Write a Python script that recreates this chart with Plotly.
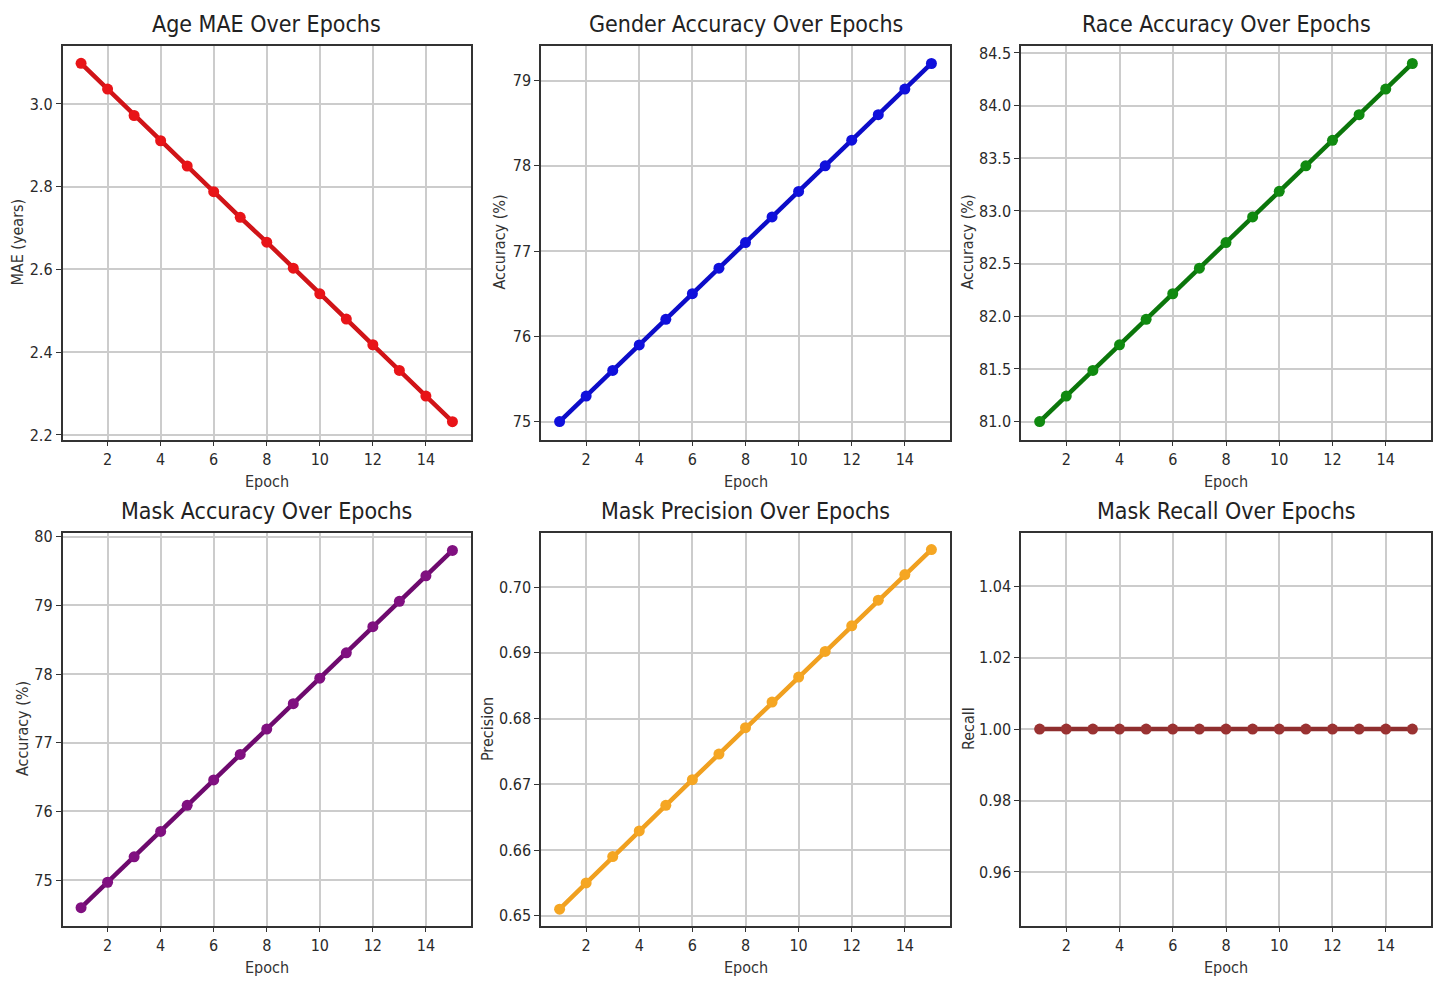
import plotly.graph_objects as go

epochs = list(range(1, 16))

age_mae = [3.098, 3.036, 2.972, 2.911, 2.850, 2.788, 2.726, 2.666, 2.603, 2.541, 2.480, 2.418, 2.356, 2.294, 2.232]
gender_acc = [75.0, 75.3, 75.6, 75.9, 76.2, 76.5, 76.8, 77.1, 77.4, 77.7, 78.0, 78.3, 78.6, 78.9, 79.2]
race_acc = [81.0, 81.243, 81.486, 81.729, 81.971, 82.214, 82.457, 82.7, 82.943, 83.186, 83.429, 83.671, 83.914, 84.157, 84.4]
mask_acc = [74.6, 74.97, 75.34, 75.71, 76.09, 76.46, 76.83, 77.2, 77.57, 77.94, 78.31, 78.69, 79.06, 79.43, 79.8]
mask_prec = [0.651, 0.655, 0.659, 0.6629, 0.6668, 0.6707, 0.6746, 0.6786, 0.6825, 0.6863, 0.6902, 0.6941, 0.698, 0.7019, 0.7057]
mask_recall = [1.0] * 15

titles = ["Age MAE Over Epochs", "Gender Accuracy Over Epochs", "Race Accuracy Over Epochs",
          "Mask Accuracy Over Epochs", "Mask Precision Over Epochs", "Mask Recall Over Epochs"]
ylabels = ["MAE (years)", "Accuracy (%)", "Accuracy (%)", "Accuracy (%)", "Precision", "Recall"]
line_colors = ["#d01418", "#0c0cc8", "#0b760b", "#6e0a6e", "#f0a020", "#8e2e2e"]
marker_colors = ["#e81418", "#1010dc", "#108a10", "#801080", "#f5a623", "#9a3232"]
series = [age_mae, gender_acc, race_acc, mask_acc, mask_prec, mask_recall]
yranges = [[2.189, 3.141], [74.79, 79.41], [80.83, 84.57], [74.34, 80.06], [0.64852, 0.70828], [0.945, 1.055]]
ydticks = [0.2, 1, 0.5, 1, 0.01, 0.02]
ytickformats = [".1f", "d", ".1f", "d", ".2f", ".2f"]

W, H = 1442, 982
col_px = [(62.5, 471), (541, 950), (1021, 1431)]
row_px = [(41, 439), (533, 930)]
ylab_x = [[18, 500, 968], [22, 487, 968]]
FONT = "DejaVu Sans Condensed, DejaVu Sans, sans-serif"

fig = go.Figure()
annotations = []
for i in range(6):
    r, c = divmod(i, 3)
    n = "" if i == 0 else str(i + 1)
    x0, x1 = col_px[c]
    y0, y1 = row_px[r]
    xd = [x0 / W, x1 / W]
    yd = [1 - y1 / H, 1 - y0 / H]
    fig.add_trace(go.Scatter(
        x=epochs, y=series[i], mode="lines+markers",
        line=dict(color=line_colors[i], width=4.5),
        marker=dict(color=marker_colors[i], size=11),
        xaxis="x" + n, yaxis="y" + n, showlegend=False,
    ))
    axcommon = dict(showline=True, linecolor="#333333", linewidth=1.5, mirror=True,
                    showgrid=True, gridcolor="#cccccc", gridwidth=1.5,
                    ticks="outside", ticklen=5, tickwidth=1.2, tickcolor="#333333",
                    tickfont=dict(family=FONT, size=16, color="#2a2a2a"), zeroline=False)
    fig.update_layout(**{
        "xaxis" + n: dict(domain=xd, anchor="y" + n, range=[0.3, 15.7], tickmode="linear",
                          tick0=2, dtick=2, **axcommon),
        "yaxis" + n: dict(domain=yd, anchor="x" + n, range=yranges[i], tickmode="linear",
                          dtick=ydticks[i], tickformat=ytickformats[i], **axcommon),
    })
    annotations.append(dict(text=titles[i], x=(x0 + x1) / 2 / W, y=1 - (y0 - 22) / H,
                            xref="paper", yref="paper", showarrow=False,
                            font=dict(family=FONT, size=23, color="#222222"),
                            xanchor="center", yanchor="middle"))
    annotations.append(dict(text="Epoch", x=(x0 + x1) / 2 / W, y=1 - (y1 + 42) / H,
                            xref="paper", yref="paper", showarrow=False,
                            font=dict(family=FONT, size=16, color="#333333"),
                            xanchor="center", yanchor="middle"))
    annotations.append(dict(text=ylabels[i], x=ylab_x[r][c] / W, y=1 - (y0 + y1) / 2 / H,
                            xref="paper", yref="paper", showarrow=False, textangle=-90,
                            font=dict(family=FONT, size=16, color="#333333"),
                            xanchor="center", yanchor="middle"))

fig.update_layout(width=W, height=H, margin=dict(l=0, r=0, t=0, b=0),
                  paper_bgcolor="white", plot_bgcolor="white", annotations=annotations)
fig.write_html("out.html", config={"displayModeBar": False},
               post_script="document.body.style.margin='0px';document.body.style.overflow='hidden';")
